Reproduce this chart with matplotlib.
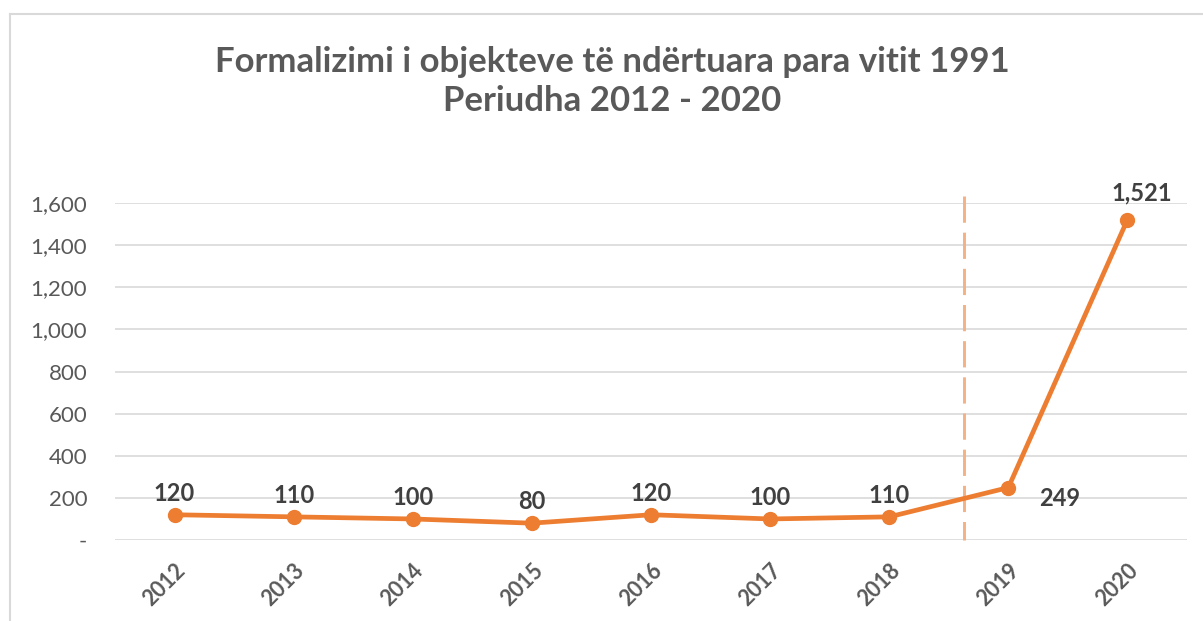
import matplotlib
matplotlib.use('Agg')
import matplotlib.pyplot as plt
from matplotlib.lines import Line2D
from matplotlib.ticker import FuncFormatter

plt.rcParams['font.family'] = ['Lato', 'DejaVu Sans']

# Të dhënat
years = ['2012', '2013', '2014', '2015', '2016', '2017', '2018', '2019', '2020']
values = [120, 110, 100, 80, 120, 100, 110, 249, 1521]
yticks = [0, 200, 400, 600, 800, 1000, 1200, 1400, 1600]
divider_pos = 6.63  # vija e ndërprerë midis 2018 dhe 2019

orange = '#ED7D31'
grey_txt = '#595959'
dark_txt = '#404040'

fig = plt.figure(figsize=(12.03, 6.21), dpi=100)
ax = fig.add_axes([0.0956, 0.1304, 0.8911, 0.5426])

# kornizë e grafikut
fig.add_artist(Line2D([10 / 1203, 10 / 1203], [0, 1 - 14 / 621], transform=fig.transFigure,
                      color='#D9D9D9', lw=1.5))
fig.add_artist(Line2D([10 / 1203, 1202 / 1203], [1 - 14 / 621, 1 - 14 / 621], transform=fig.transFigure,
                      color='#D9D9D9', lw=1.5))

x = list(range(len(years)))
ax.plot(x, values, color=orange, lw=3.4, marker='o', markersize=10, zorder=3)

# vija vertikale e ndërprerë (nga lart poshtë)
ax.plot([divider_pos, divider_pos], [1635, 0], color='#F4B183', lw=2.1,
        dashes=(9, 3.4), clip_on=False, zorder=2)

# etiketat e vlerave
for i, v in enumerate(values):
    label = f'{v:,}'
    if years[i] == '2019':
        ax.annotate(label, (i, v), xytext=(22, -8), textcoords='offset points',
                    ha='left', va='center', fontsize=17, fontweight='bold', color=dark_txt)
    elif years[i] == '2020':
        ax.annotate(label, (i, v), xytext=(10, 11), textcoords='offset points',
                    ha='center', va='bottom', fontsize=17, fontweight='bold', color=dark_txt)
    else:
        ax.annotate(label, (i, v), xytext=(0, 7), textcoords='offset points',
                    ha='center', va='bottom', fontsize=17, fontweight='bold', color=dark_txt)

ax.set_xlim(-0.5, len(years) - 0.5)
ax.set_ylim(0, 1600)
ax.set_yticks(yticks)
ax.yaxis.set_major_formatter(FuncFormatter(lambda v, p: '-' if v == 0 else f'{int(v):,}'))
ax.set_xticks(x)
ax.set_xticklabels(years, rotation=45, ha='right', rotation_mode='anchor',
                   fontweight='bold', fontsize=15.5, color=grey_txt)
ax.tick_params(axis='y', labelsize=16, labelcolor=grey_txt, length=0, pad=20)
ax.tick_params(axis='x', length=0, pad=14)

ax.grid(axis='y', color='#D9D9D9', lw=1.2)
ax.set_axisbelow(True)
for s in ax.spines.values():
    s.set_visible(False)

fig.text(0.509, 1 - 62 / 621, 'Formalizimi i objekteve të ndërtuara para vitit 1991',
         ha='center', va='center', fontsize=25, fontweight='bold', color=grey_txt)
fig.text(0.509, 1 - 101 / 621, 'Periudha 2012 - 2020',
         ha='center', va='center', fontsize=25, fontweight='bold', color=grey_txt)

plt.savefig('out.png', dpi=100)
